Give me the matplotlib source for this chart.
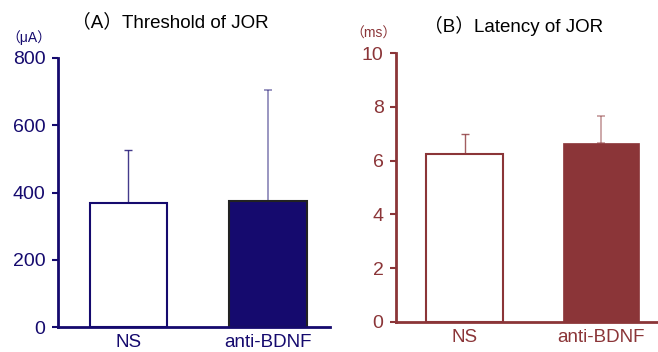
import matplotlib
matplotlib.use("Agg")
import matplotlib.pyplot as plt

categories = ["NS", "anti-BDNF"]
threshold_mean = [370, 374]
threshold_err = [157, 331]
latency_mean = [6.25, 6.65]
latency_err = [0.75, 1.0]
threshold_ticks = [0, 200, 400, 600, 800]
latency_ticks = [0, 2, 4, 6, 8, 10]

navy = "#150a6e"
brown = "#8b3538"

plt.rcParams['font.family'] = ['Liberation Sans', 'Noto Sans CJK JP', 'DejaVu Sans']

fig = plt.figure(figsize=(6.58, 3.52), dpi=100)

def panel(rect, means, errs, ticks, color, xlim, width, fill_edge, fill_lw):
    ax = fig.add_axes(rect)
    x = [0, 1]
    ax.bar(x[0], means[0], width=width, color="white", edgecolor=color, linewidth=1.5, zorder=2)
    ax.bar(x[1], means[1], width=width, color=color, edgecolor=fill_edge, linewidth=fill_lw, zorder=2)
    ax.errorbar(x[0], means[0], yerr=[[0], [errs[0]]], fmt="none", ecolor=color, alpha=0.8,
                elinewidth=1.0, capsize=3, capthick=1.0, zorder=1)
    ax.errorbar(x[1], means[1], yerr=[[0], [errs[1]]], fmt="none", ecolor=color, alpha=0.5,
                elinewidth=1.2, capsize=3, capthick=1.2, zorder=1)
    ax.set_xlim(*xlim)
    ax.set_ylim(ticks[0], ticks[-1])
    ax.set_yticks(ticks)
    ax.set_xticks(x)
    ax.set_xticklabels(categories, fontsize=13.5, color=color)
    ax.tick_params(axis="x", length=0, pad=5)
    ax.tick_params(axis="y", direction="out", length=4, width=1.5, colors=color,
                   labelsize=14, pad=5)
    for s in ["top", "right"]:
        ax.spines[s].set_visible(False)
    for s in ["left", "bottom"]:
        ax.spines[s].set_color(color)
        ax.spines[s].set_linewidth(2)
    ax.spines["bottom"].set_zorder(3)
    return ax

axA = panel([58/658, 1-327/352, 272/658, 269/352], threshold_mean, threshold_err,
            threshold_ticks, navy, (-0.505, 1.444), 0.555, "#222222", 1.5)
axB = panel([396/658, 1-322/352, 262/658, 269/352], latency_mean, latency_err,
            latency_ticks, brown, (-0.502, 1.418), 0.557, brown, 0.5)

fig.text(170/658, 1-22/352, "（A）Threshold of JOR", ha="center", va="center",
         fontsize=13.5, color="black")
fig.text(514/658, 1-26/352, "（B）Latency of JOR", ha="center", va="center",
         fontsize=13.5, color="black")
fig.text(29/658, 1-38/352, "（μA）", ha="center", va="center", fontsize=10, color=navy)
fig.text(374/658, 1-34/352, "（ms）", ha="center", va="center", fontsize=10, color=brown)

fig.savefig("out.png", dpi=100)
